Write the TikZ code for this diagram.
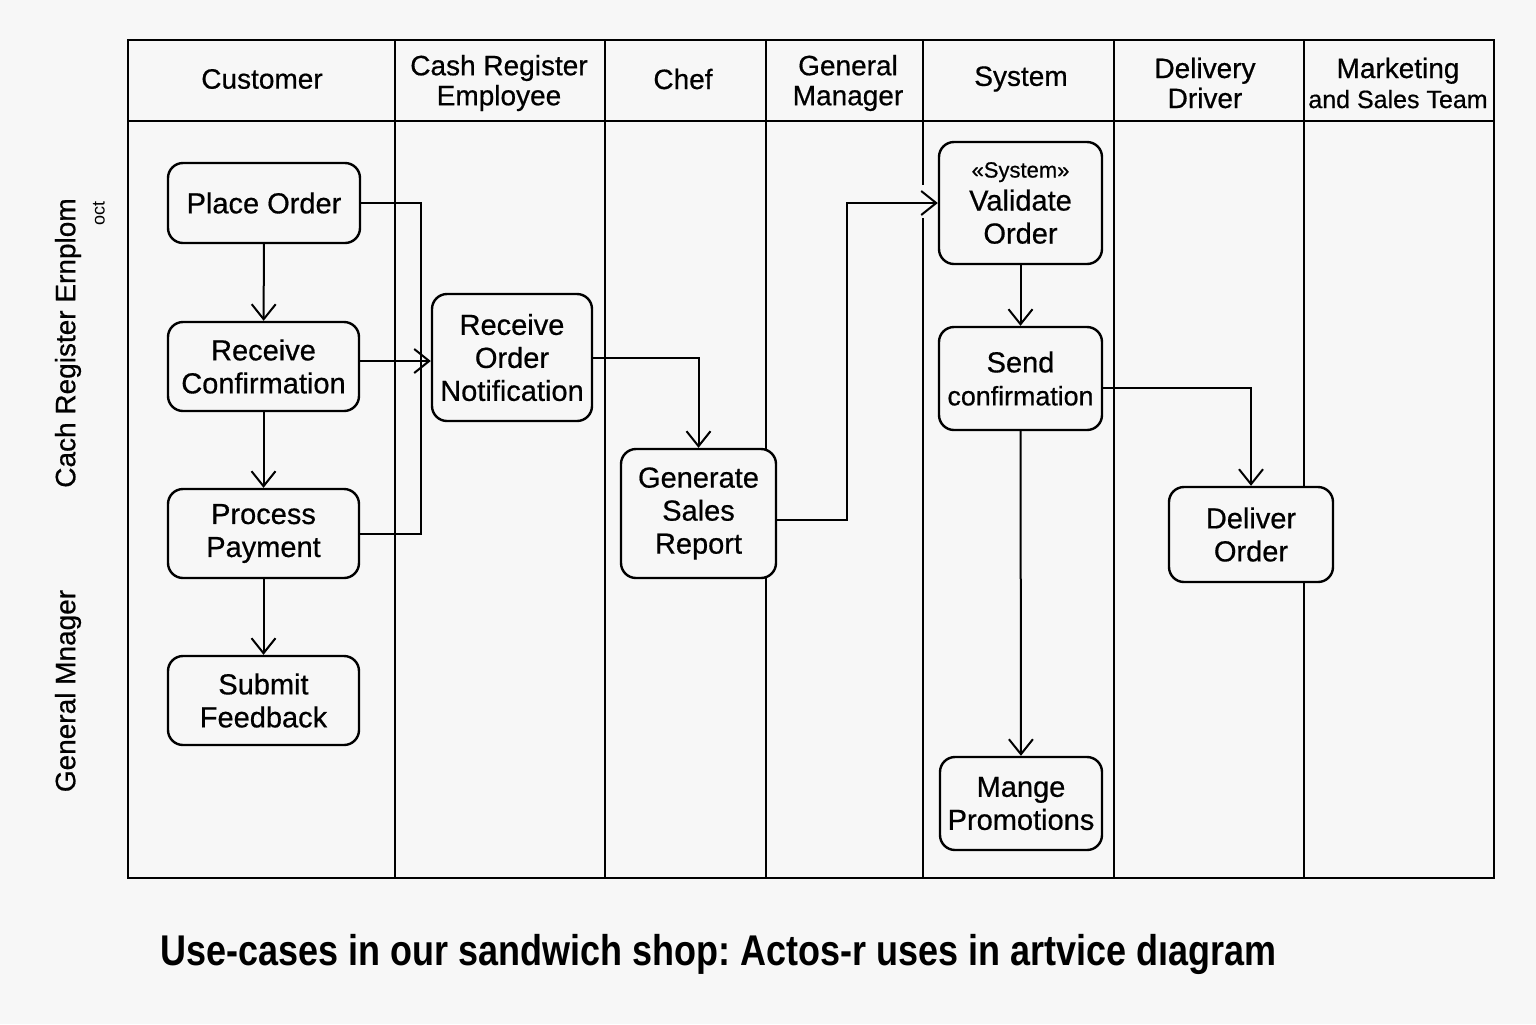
\documentclass[tikz,border=0pt]{standalone}
\usepackage{fontspec}
\usepackage{graphicx}
\setmainfont{Liberation Sans}
\newfontfamily\medfont{Liberation Sans}[FakeBold=0.6]
\usetikzlibrary{arrows.meta,calc}
\definecolor{bg}{RGB}{247,247,247}
\begin{document}
\frenchspacing
\begin{tikzpicture}[x=0.5pt,y=-0.5pt,
  lane/.style={line width=1.4pt},
  act/.style={draw, line width=1.2pt, rounded corners=7.5pt, fill=bg, align=center, inner sep=0pt, font=\medfont\fontsize{14.5}{16.5}\selectfont},
  hdr/.style={align=center, font=\medfont\fontsize{14}{15}\selectfont},
  side/.style={rotate=90, font=\medfont\fontsize{14}{16}\selectfont},
  conn/.style={line width=1pt},
  arr/.style={conn, -{Straight Barb[length=7.5pt,width=12pt]}},
]
\fill[bg] (0,0) rectangle (1536,1024);
\useasboundingbox (0,0) rectangle (1536,1024);
% frame and lanes
\draw[lane] (128,40) rectangle (1494,878);
\draw[lane] (128,121) -- (1494,121);
\foreach \x in {395,605,766,923,1114,1304} \draw[lane] (\x,40) -- (\x,878);
\fill[bg] (918,185) rectangle (928,218);
% headers
\node[hdr] (h1) at (262,79) {Customer};
\node[hdr] (h2) at (499,83) {Cash Register\\Employee};
\node[hdr] (h3) at (683,79) {Chef};
\node[hdr] (h4) at (848,83) {General\\Manager};
\node[hdr] (h5) at (1021,79) {System};
\node[hdr] (h6) at (1205,83) {Delivery\\Driver};
\node[hdr] (h7) at (1398,83) {Marketing\\{\fontsize{12.5}{15}\selectfont and Sales Team}};
% side labels
\node[side] (s1) at (68,343) {Cach Register Ernplom};
\node[rotate=90, font=\fontsize{9}{10}\selectfont] (s1b) at (99,213) {oct};
\node[side] (s2) at (68,691) {General Mnager};
% activities
\node[act, minimum width=96pt, minimum height=40pt] (po) at (264,203) {Place Order};
\node[act, minimum width=95.5pt, minimum height=44.5pt] (rc) at (263.5,366.5) {Receive\\Confirmation};
\node[act, minimum width=95.5pt, minimum height=44.5pt] (pp) at (263.5,533.5) {Process\\Payment};
\node[act, minimum width=95.5pt, minimum height=44.5pt] (sf) at (263.5,700.5) {Submit\\Feedback};
\node[act, minimum width=80pt, minimum height=63.5pt] (ron) at (512,357.5) {Receive\\Order\\Notification};
\node[act, minimum width=77.5pt, minimum height=64.5pt] (gsr) at (698.5,513.5) {Generate\\Sales\\Report};
\node[act, minimum width=81.5pt, minimum height=61pt] (vo) at (1020.5,203) {{\fontsize{11}{13}\selectfont «System»}\\Validate\\Order};
\node[act, minimum width=81.5pt, minimum height=51.5pt] (sc) at (1020.5,378.5) {Send\\{\fontsize{13.4}{15}\selectfont confirmation}};
\node[act, minimum width=82pt, minimum height=47.5pt] (do) at (1251,534.5) {Deliver\\Order};
\node[act, minimum width=81pt, minimum height=46.5pt] (mp) at (1021,803.5) {Mange\\Promotions};
% connectors
\draw[arr] (po) -- (rc);
\draw[arr] (rc) -- (pp);
\draw[arr] (pp) -- (sf);
\coordinate (bx) at (421,361);
\draw[conn] (po.east) -| (bx);
\draw[conn] (pp.east) -| (bx);
\draw[arr] (rc.east|-bx) -- (ron.west|-bx);
\draw[arr] (ron.east) -| (gsr.north);
\coordinate (b2) at (847,520);
\draw[arr] (gsr.east|-b2) -- (b2) |- (vo.west);
\draw[arr] (vo) -- (sc);
\coordinate (b3) at (1253,388);
\draw[arr] (sc.east|-b3) -| (do.north);
\draw[arr] (sc) -- (mp);
% title
\node[font=\bfseries\fontsize{21.5}{24}\selectfont] (title) at (718.5,954) {\resizebox{558pt}{\height}{Use-cases in our sandwich shop: Actos-r uses in artvice dıagram}};
\end{tikzpicture}
\end{document}
